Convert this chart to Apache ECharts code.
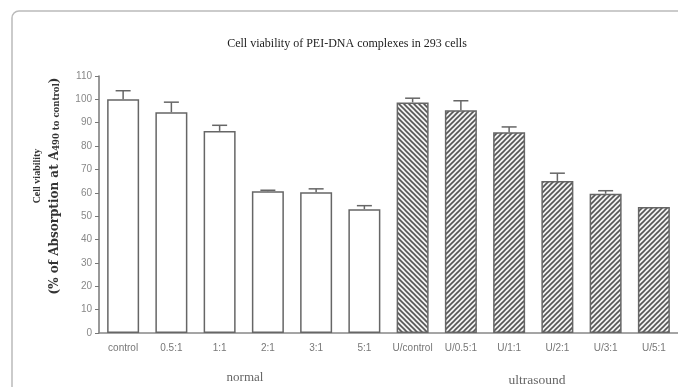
<!DOCTYPE html>
<html>
<head>
<meta charset="utf-8">
<script src="https://cdn.jsdelivr.net/npm/echarts@6/dist/echarts.min.js"></script>
<style>html,body{margin:0;padding:0;background:#fff}#c{width:678px;height:387px}</style>
</head>
<body>
<div id="c"></div>
<script>
const categories = ['control','0.5:1','1:1','2:1','3:1','5:1','U/control','U/0.5:1','U/1:1','U/2:1','U/3:1','U/5:1'];
const values = [100, 94.5, 86.5, 60.7, 60.2, 53.0, 98.7, 95.3, 85.9, 65.1, 59.6, 53.9];
const errors = [3.7, 4.3, 2.4, 0.4, 1.5, 1.5, 1.8, 4.1, 2.3, 3.3, 1.3, 0];
const yTicks = [0,10,20,30,40,50,60,70,80,90,100,110];
const groupLabels = ['normal', 'ultrasound'];

function hatch(back) {
  const s = 5;
  const c = document.createElement('canvas');
  c.width = s; c.height = s;
  const g = c.getContext('2d');
  g.fillStyle = '#f2f2f2'; g.fillRect(0,0,s,s);
  g.strokeStyle = '#555'; g.lineWidth = 1.6;
  g.beginPath();
  if (back) {
    g.moveTo(-1,-1); g.lineTo(s+1,s+1);
    g.moveTo(-1,s-1); g.lineTo(1,s+1);
    g.moveTo(s-1,-1); g.lineTo(s+1,1);
  } else {
    g.moveTo(-1,s+1); g.lineTo(s+1,-1);
    g.moveTo(-1,1); g.lineTo(1,-1);
    g.moveTo(s-1,s+1); g.lineTo(s+1,s-1);
  }
  g.stroke();
  return {image: c, repeat: 'repeat'};
}
const fwd = hatch(false), bck = hatch(true);

const barData = values.map((v, i) => ({
  value: v,
  itemStyle: { color: i < 6 ? '#fff' : (i === 6 ? bck : fwd) }
}));

const chart = echarts.init(document.getElementById('c'), null, {renderer: 'canvas'});
chart.setOption({
  animation: false,
  backgroundColor: '#fff',
  grid: { left: 99, top: 76, width: 581, height: 257, containLabel: false },
  xAxis: {
    type: 'category', data: categories,
    axisLine: { lineStyle: { color: '#888', width: 1.5 } },
    axisTick: { show: false },
    axisLabel: { color: '#777', fontSize: 10, fontFamily: 'Liberation Sans, Arial', margin: 10, interval: 0 }
  },
  yAxis: {
    type: 'value', min: 0, max: 110, interval: 10,
    splitLine: { show: false },
    axisLine: { show: true, lineStyle: { color: '#777', width: 1.5 } },
    axisTick: { show: true, length: 4, lineStyle: { color: '#777' } },
    axisLabel: { color: '#888', fontSize: 10, fontFamily: 'Liberation Sans, Arial', margin: 7,
      formatter: v => yTicks.includes(v) ? String(v) : '' }
  },
  series: [
    {
      type: 'bar', data: barData, barWidth: 32,
      itemStyle: { borderColor: '#666', borderWidth: 1.5 }
    },
    {
      type: 'custom',
      data: values.map((v, i) => [i, v, errors[i]]),
      renderItem: function (params, api) {
        const i = api.value(0), v = api.value(1), e = api.value(2);
        if (!e) return null;
        const p0 = api.coord([i, v]);
        const p1 = api.coord([i, v + e]);
        const hw = 7.5;
        const st = { stroke: '#666', lineWidth: 1.5 };
        return { type: 'group', children: [
          { type: 'line', shape: { x1: p0[0], y1: p0[1], x2: p1[0], y2: p1[1] }, style: st },
          { type: 'line', shape: { x1: p1[0]-hw, y1: p1[1], x2: p1[0]+hw, y2: p1[1] }, style: st }
        ]};
      },
      z: 5
    }
  ],
  graphic: [
    { type: 'rect', shape: { x: 12, y: 11, width: 700, height: 420, r: 7 },
      style: { fill: 'none', stroke: '#bbb', lineWidth: 1.5 }, silent: true },
    { type: 'text', x: 347, y: 44,
      style: { text: 'Cell viability of PEI-DNA complexes in 293 cells', font: '12px "Liberation Serif", serif',
        fill: '#222', textAlign: 'center', textVerticalAlign: 'middle' } },
    { type: 'text', x: 37, y: 176, rotation: Math.PI / 2,
      style: { text: 'Cell viability', font: 'bold 10px "Liberation Serif", serif',
        fill: '#333', textAlign: 'center', textVerticalAlign: 'middle' } },
    { type: 'text', x: 55, y: 186, rotation: Math.PI / 2,
      style: { text: '(% of Absorption at A{s|490 to control})', font: 'bold 12px "DejaVu Serif", serif',
        fill: '#333', textAlign: 'center', textVerticalAlign: 'middle',
        rich: { s: { font: 'bold 8.5px "DejaVu Serif", serif', fill: '#333', verticalAlign: 'bottom', padding: [4,0,0,0] } } } },
    { type: 'text', x: 245, y: 378,
      style: { text: groupLabels[0], font: '13px "Liberation Serif", serif',
        fill: '#666', textAlign: 'center', textVerticalAlign: 'middle' } },
    { type: 'text', x: 537, y: 380,
      style: { text: groupLabels[1], font: '13.5px "Liberation Serif", serif',
        fill: '#666', textAlign: 'center', textVerticalAlign: 'middle' } }
  ]
});
</script>
</body>
</html>
